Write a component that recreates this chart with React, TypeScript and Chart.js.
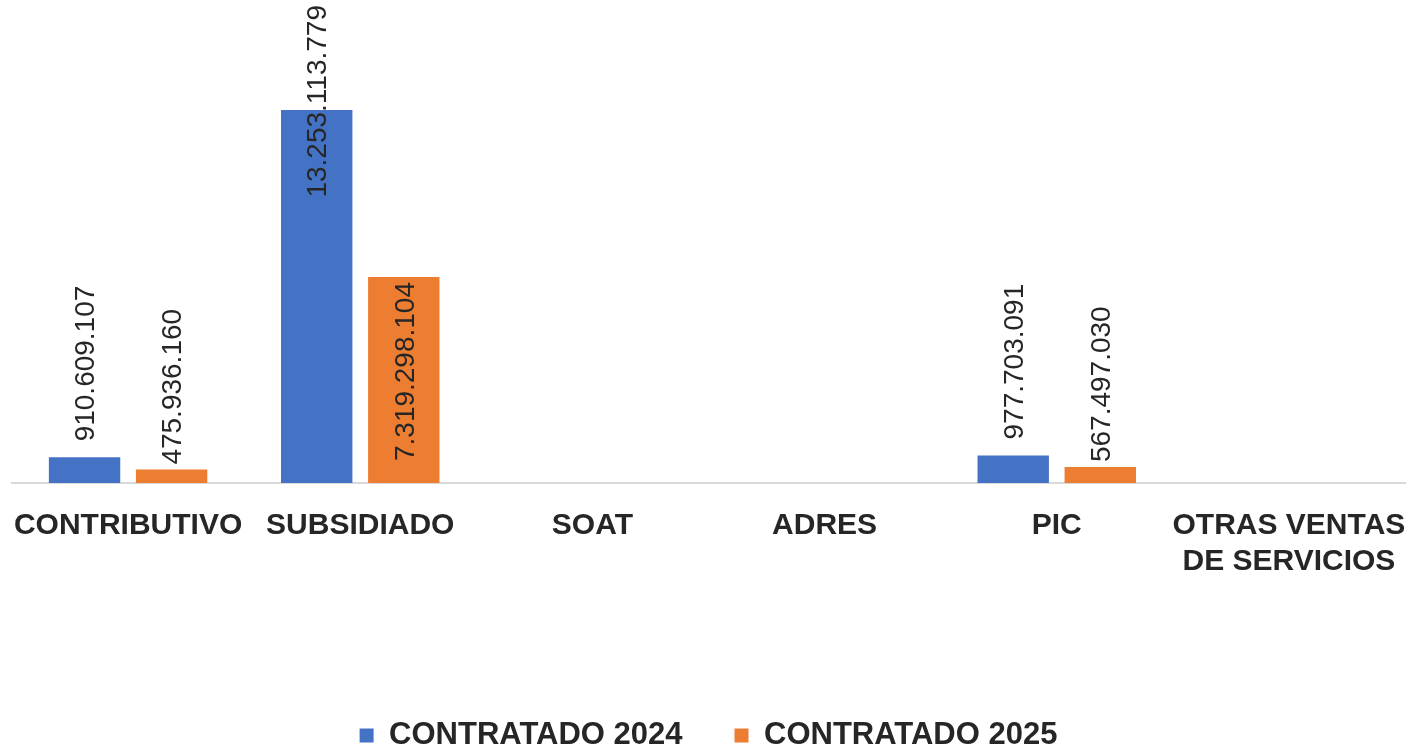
import React, { useEffect, useRef } from "react";
import { Chart, registerables } from "chart.js";

Chart.register(...registerables);

const categories: (string | string[])[] = [
  "CONTRIBUTIVO",
  "SUBSIDIADO",
  "SOAT",
  "ADRES",
  "PIC",
  ["OTRAS VENTAS", "DE SERVICIOS"],
];
const contratado2024: number[] = [910609107, 13253113779, 0, 0, 977703091, 0];
const contratado2025: number[] = [475936160, 7319298104, 0, 0, 567497030, 0];
const seriesNames: string[] = ["CONTRATADO 2024", "CONTRATADO 2025"];

const fmt = (v: number) => String(Math.round(v)).replace(/\B(?=(\d{3})+(?!\d))/g, ".");

const LABEL_FONT = "28px 'Liberation Sans', Arial, sans-serif";

const barLabels = {
  id: "barLabels",
  afterDatasetsDraw(chart: any) {
    const ctx = chart.ctx;
    ctx.save();
    ctx.font = LABEL_FONT;
    ctx.fillStyle = "#262626";
    chart.data.datasets.forEach((ds: any, di: number) => {
      const meta = chart.getDatasetMeta(di);
      const mode = ds.labelMode;
      const gap = ds.labelGap ?? 6;
      meta.data.forEach((bar: any, i: number) => {
        const v = ds.data[i];
        if (!v) return;
        const txt = fmt(v);
        const w = ctx.measureText(txt).width;
        const top = bar.y;
        const h = bar.base - bar.y;
        let bottomY: number;
        if (mode === "insideOrOutside" && h > w + 2 * gap) {
          bottomY = top + gap + w;
        } else {
          bottomY = top - gap;
          if (bottomY - w < 5) bottomY = 5 + w;
        }
        ctx.save();
        ctx.translate(bar.x + 2, bottomY);
        ctx.rotate(-Math.PI / 2);
        ctx.textAlign = "left";
        ctx.textBaseline = "middle";
        ctx.fillText(txt, 0, 0);
        ctx.restore();
      });
    });
    ctx.restore();
  },
};

export default function App() {
  const ref = useRef<HTMLCanvasElement | null>(null);
  useEffect(() => {
    if (!ref.current) return;
    const chart = new Chart(ref.current, {
      type: "bar",
      data: {
        labels: categories as any,
        datasets: [
          {
            label: seriesNames[0],
            data: contratado2024,
            backgroundColor: "#4472C4",
            categoryPercentage: 0.75,
            barPercentage: 0.82,
            labelMode: "outside",
            labelGap: 16,
          } as any,
          {
            label: seriesNames[1],
            data: contratado2025,
            backgroundColor: "#ED7D31",
            categoryPercentage: 0.75,
            barPercentage: 0.82,
            labelMode: "insideOrOutside",
            labelGap: 5,
          } as any,
        ],
      },
      options: {
        animation: false,
        responsive: false,
        maintainAspectRatio: false,
        layout: { padding: { left: 12, right: 2, top: 0, bottom: -13 } },
        plugins: {
          legend: {
            position: "bottom",
            labels: {
              color: "#262626",
              font: { family: "'Liberation Sans', Arial, sans-serif", size: 31, weight: "bold" },
              boxWidth: 14,
              boxHeight: 14,
              padding: 52,
            },
          },
          tooltip: { enabled: false },
        },
        scales: {
          x: {
            grid: { display: false, drawTicks: false },
            border: { display: true, color: "#d9d9d9", width: 2 },
            ticks: {
              color: "#262626",
              font: { family: "'Liberation Sans', Arial, sans-serif", size: 30, weight: "bold" },
              maxRotation: 0,
              minRotation: 0,
              autoSkip: false,
              padding: 25,
            },
            afterFit: (scale: any) => {
              scale.height = 185;
              scale.paddingLeft = 0;
              scale.paddingRight = 0;
            },
          },
          y: {
            display: false,
            min: 0,
            max: 17160000000,
          },
        },
      },
      plugins: [barLabels],
    });
    return () => chart.destroy();
  }, []);
  return (
    <div style={{ position: "absolute", left: 0, top: 0, width: 1407, height: 748, background: "#fff" }}>
      <canvas ref={ref} width={1407} height={748} style={{ display: "block" }} />
    </div>
  );
}
